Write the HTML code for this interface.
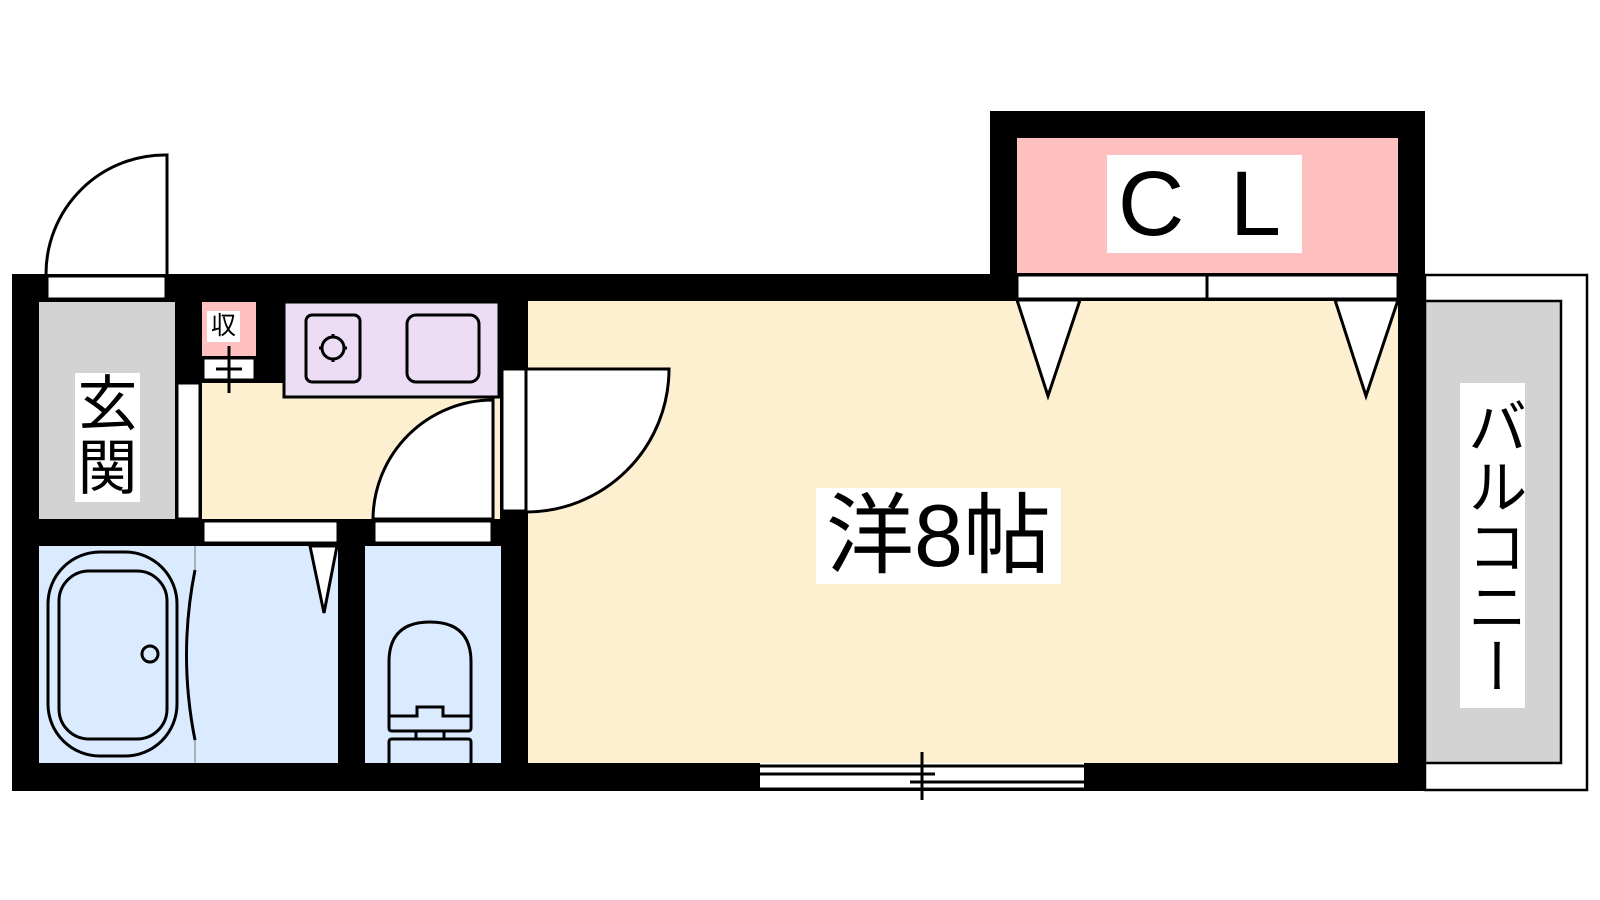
<!DOCTYPE html>
<html><head><meta charset="utf-8"><style>
html,body{margin:0;padding:0;background:#fff;}
#w{position:relative;width:1600px;height:900px;overflow:hidden;}
svg{position:absolute;left:0;top:0;}
.t{position:absolute;font-family:"Liberation Sans","Noto Sans CJK JP",sans-serif;color:#000;background:#fff;text-align:center;}
</style></head><body><div id="w">
<svg width="1600" height="900" viewBox="0 0 1600 900">
<g stroke="#000" stroke-width="3" fill="none">
<rect x="1425" y="275" width="162" height="515" fill="#fff" stroke-width="2.5"/>
<rect x="1425" y="301" width="136" height="462" fill="#d3d3d3" stroke-width="2.5"/>
</g>
<rect x="12" y="274" width="1413" height="517" fill="#000"/>
<rect x="990" y="111" width="435" height="190" fill="#000"/>
<rect x="1017" y="138" width="381" height="135" fill="#ffc0c0"/>
<rect x="528" y="301" width="870" height="462" fill="#fdf0d0"/>
<rect x="39" y="302" width="136" height="217" fill="#d3d3d3"/>
<rect x="202" y="383" width="298" height="136" fill="#fdf0d0"/>
<rect x="202" y="302" width="54" height="54" fill="#ffc0c0"/>
<rect x="39" y="546" width="299" height="217" fill="#dbebff"/>
<rect x="365" y="546" width="136" height="217" fill="#dbebff"/>
<g stroke="#000" stroke-width="3" fill="#fff">
<rect x="1017" y="275" width="190" height="24"/>
<rect x="1207" y="275" width="191" height="24"/>
<path d="M1017 300 L1080 300 L1048 396 Z"/>
<path d="M1335 300 L1398 300 L1366 396 Z"/>
<rect x="760" y="763" width="324" height="27" stroke="none"/>
<line x1="760" y1="766" x2="1084" y2="766"/>
<line x1="760" y1="774" x2="935" y2="774"/>
<line x1="910" y1="782" x2="1084" y2="782"/>
<line x1="760" y1="789" x2="1084" y2="789"/>
<line x1="922" y1="752" x2="922" y2="800"/>
<rect x="47" y="276" width="119" height="23"/>
<path d="M167 274 L167 155 A119 119 0 0 0 46 274" />
<rect x="177" y="383" width="23" height="136"/>
<rect x="203" y="358" width="52" height="22"/>
<line x1="216" y1="369" x2="242" y2="369"/>
<line x1="229" y1="346" x2="229" y2="393"/>
<rect x="284" y="302" width="215" height="95" fill="#ecdcf4"/>
<rect x="306" y="315" width="54" height="67" rx="6" fill="none"/>
<circle cx="333" cy="348" r="11" fill="none"/>
<line x1="333" y1="334" x2="333" y2="338"/><line x1="333" y1="358" x2="333" y2="362"/>
<line x1="319" y1="348" x2="323" y2="348"/><line x1="343" y1="348" x2="347" y2="348"/>
<rect x="407" y="315" width="72" height="67" rx="9" fill="none"/>
<path d="M493 519 L493 400 A120 120 0 0 0 373 519 Z"/>
<rect x="502" y="369" width="24" height="142"/>
<path d="M526 369 L669 369 A143 143 0 0 1 526 512 Z"/>
<rect x="203" y="521" width="135" height="22"/>
<rect x="374" y="521" width="118" height="22"/>
<path d="M310 546 L337 546 L324 613 Z"/>
</g>
<g stroke="#000" stroke-width="3" fill="none">
<path d="M195 570 Q178 655 195 740"/>
<line x1="195" y1="546" x2="195" y2="570" stroke="#777" stroke-width="1"/>
<line x1="195" y1="740" x2="195" y2="763" stroke="#777" stroke-width="1"/>
<rect x="48" y="552" width="129" height="204" rx="52"/>
<rect x="59" y="571" width="108" height="168" rx="30"/>
<circle cx="150" cy="654" r="8"/>
<path d="M389 716 L389 662 Q389 622 430 622 Q471 622 471 662 L471 716"/>
<path d="M389 716 L417 716 L417 707 L443 707 L443 716 L471 716 L471 728 Q471 731 468 731 L392 731 Q389 731 389 728 Z"/>
<rect x="416" y="731" width="28" height="8"/>
<path d="M389 763 L389 742 Q389 739 392 739 L468 739 Q471 739 471 742 L471 763"/>
</g>
</svg>
<div class="t" style="left:75px;top:373px;width:65px;height:129px;font-size:60px;line-height:64px;">玄<br>関</div>
<div class="t" style="left:207px;top:311px;width:33px;height:31px;font-size:25px;line-height:31px;">収</div>
<div class="t" style="left:1107px;top:155px;width:195px;height:98px;font-size:92px;line-height:98px;letter-spacing:10px;">C L</div>
<div class="t" style="left:816px;top:488px;width:245px;height:96px;font-size:88px;line-height:96px;">洋8帖</div>
<div class="t" style="left:1460px;top:383px;width:65px;height:325px;font-size:60px;line-height:65px;writing-mode:vertical-rl;">バルコニー</div>
</div></body></html>
